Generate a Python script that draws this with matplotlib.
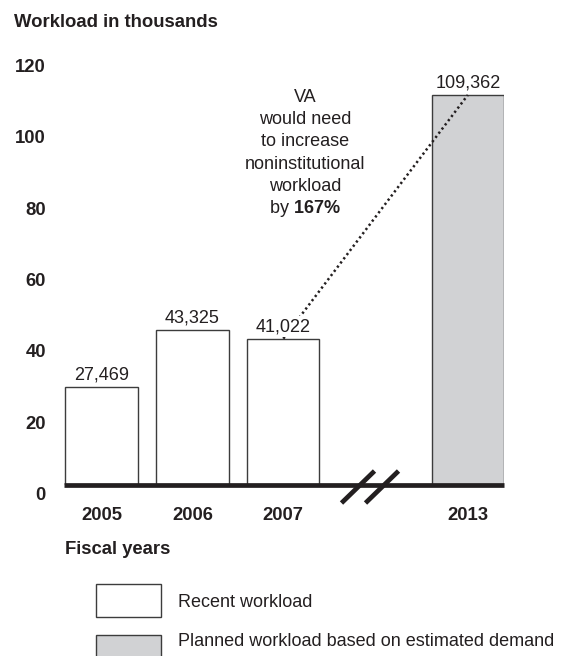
import matplotlib
matplotlib.use("Agg")
import matplotlib.pyplot as plt
from matplotlib.patches import Rectangle
from matplotlib.transforms import ScaledTranslation

plt.rcParams['font.family'] = ['Liberation Sans', 'DejaVu Sans']
plt.rcParams['mathtext.fontset'] = 'custom'
plt.rcParams['mathtext.rm'] = 'Liberation Sans'
plt.rcParams['mathtext.bf'] = 'Liberation Sans:bold'

# data (thousands)
years = ["2005", "2006", "2007", "2013"]
workload = [27.469, 43.325, 41.022, 109.362]
value_labels = ["27,469", "43,325", "41,022", "109,362"]
planned = [False, False, False, True]
y_ticks = [0, 20, 40, 60, 80, 100, 120]
note_lines = ["VA", "would need", "to increase", "noninstitutional",
              "workload", r"by $\mathbf{167\%}$"]
legend_labels = ["Recent workload", "Planned workload based on estimated demand"]

W, H = 568, 656
ink = "#231f20"
edge = "#3c3c3c"
gray = "#d1d2d4"
fs = 13.3    # bold labels
fr = 13      # regular text

def fx(px):
    return px / W

def fy(py):
    return 1 - py / H

x_pos = [0, 1, 2, 4.03]   # gap before 2013 for the axis break

fig = plt.figure(figsize=(W / 100, H / 100), dpi=100)
ax = fig.add_axes([fx(64), fy(485), 440 / W, 428 / H])

colors = [gray if p else "white" for p in planned]
ax.bar(x_pos, workload, width=0.795, color=colors, edgecolor=edge,
       linewidth=1.0, zorder=2)

ax.axhline(0, color=ink, lw=3.4, zorder=3, clip_on=False,
           solid_capstyle="butt")

# dotted connector from 2007 to 2013
ax.plot([x_pos[2], x_pos[3]], [workload[2], workload[3]], color=ink,
        lw=1.8, linestyle=(0, (0.9, 1.2)), zorder=4, clip_on=False)

for x, v, lab in zip(x_pos, workload, value_labels):
    ax.annotate(lab, (x, v), xytext=(0, 5.4), textcoords="offset points",
                ha="center", va="baseline", fontsize=fr, color=ink, zorder=5,
                bbox=dict(boxstyle="square,pad=0.1", fc="white", ec="none"))

ax.set_xlim(-0.4125, 4.4275)
ax.set_ylim(0, 120)
for s in ax.spines.values():
    s.set_visible(False)

ax.set_yticks(y_ticks)
ax.set_yticklabels([str(t) for t in y_ticks], fontweight="bold", fontsize=fs,
                   color=ink, va="baseline")
ax.tick_params(axis="y", length=0, pad=13)
off = ScaledTranslation(0, -0.15, fig.dpi_scale_trans)
for lab in ax.get_yticklabels():
    lab.set_transform(lab.get_transform() + off)

ax.set_xticks(x_pos)
ax.set_xticklabels(years, fontweight="bold", fontsize=fs, color=ink)
ax.tick_params(axis="x", length=0, pad=15.5)

# axis break marks
for cx in [(358 - 64) / 440, (382 - 64) / 440]:
    ax.plot([cx - 0.0375, cx + 0.0375], [-0.0047 - 0.0374, -0.0047 + 0.0374],
            transform=ax.transAxes, color=ink, lw=3.4, clip_on=False,
            solid_capstyle="butt", zorder=6)

# annotation text
for i, line in enumerate(note_lines):
    fig.text(fx(305), fy(101.7 + 22.3 * i), line, ha="center", va="baseline",
             fontsize=fr, color=ink)

fig.text(fx(14), fy(27), "Workload in thousands", fontweight="bold",
         fontsize=fs, color=ink, va="baseline")
fig.text(fx(65), fy(554), "Fiscal years", fontweight="bold",
         fontsize=fs, color=ink, va="baseline")

# legend
box_tops = [584.3, 635]
text_mid = [602.5, 641.5]
for top, mid, lab, c in zip(box_tops, text_mid, legend_labels, ["white", gray]):
    fig.add_artist(Rectangle((fx(96), fy(top + 32.5)), 64.7 / W, 32.5 / H,
                             transform=fig.transFigure, fc=c, ec=edge, lw=1.0))
    fig.text(fx(178), fy(mid), lab, fontsize=fr, color=ink, va="center")

fig.savefig("out.png", dpi=100)
